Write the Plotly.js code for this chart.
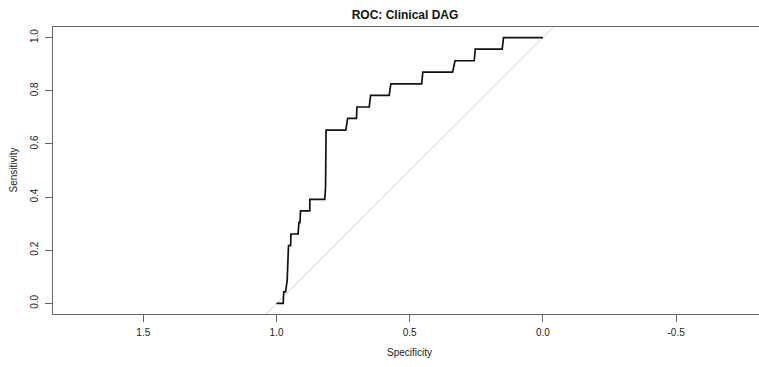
<!DOCTYPE html>
<html>
<head>
<meta charset="utf-8">
<script src="https://cdn.plot.ly/plotly-3.0.1.min.js"></script>
<style>html,body{margin:0;padding:0;background:#fff;}#chart{width:759px;height:367px;}</style>
</head>
<body>
<div id="chart"></div>
<script>
// ROC curve points (specificity, sensitivity)
const specificity = [1.000, 0.975, 0.973, 0.966, 0.960, 0.955, 0.947, 0.946, 0.919, 0.916, 0.912, 0.910, 0.875, 0.875, 0.819, 0.816, 0.814, 0.740, 0.733, 0.700, 0.698, 0.652, 0.647, 0.577, 0.571, 0.455, 0.451, 0.339, 0.330, 0.258, 0.254, 0.153, 0.148, 0.000];
const sensitivity = [0.000, 0.000, 0.043, 0.043, 0.087, 0.217, 0.217, 0.261, 0.261, 0.304, 0.304, 0.348, 0.348, 0.391, 0.391, 0.435, 0.652, 0.652, 0.696, 0.696, 0.739, 0.739, 0.783, 0.783, 0.826, 0.826, 0.870, 0.870, 0.913, 0.913, 0.957, 0.957, 1.000, 1.000];
// chance diagonal (sens = 1 - spec) spanning the plot region
const diagSpec = [1.04, -0.04];
const diagSens = [-0.04, 1.04];
// tick labels
const xTickVals = [1.5, 1.0, 0.5, 0.0, -0.5];
const xTickText = ["1.5", "1.0", "0.5", "0.0", "-0.5"];
const yTickVals = [0.0, 0.2, 0.4, 0.6, 0.8, 1.0];
const yTickText = ["0.0", "0.2", "0.4", "0.6", "0.8", "1.0"];

const FONT = "Liberation Sans, Arial, sans-serif";
const axisColor = "#666";

const traces = [
  {x: diagSpec, y: diagSens, mode: "lines", line: {color: "#d3d3d3", width: 1}, hoverinfo: "skip", showlegend: false},
  {x: specificity, y: sensitivity, mode: "lines", line: {color: "#111", width: 1.7}, showlegend: false}
];

const layout = {
  width: 759, height: 367,
  margin: {l: 53, r: 0, t: 27, b: 53, pad: 0},
  paper_bgcolor: "#fff", plot_bgcolor: "#fff",
  font: {family: FONT, size: 10, color: "#222"},
  title: {text: "<b>ROC: Clinical DAG</b>", font: {family: FONT, size: 12, color: "#111"},
          xref: "container", x: 405/759, xanchor: "center", yref: "container", y: 1 - 15/367, yanchor: "middle"},
  xaxis: {
    range: [1.839, -0.811], tickvals: xTickVals, ticktext: xTickText,
    showgrid: false, zeroline: false, showline: true, mirror: true, linecolor: axisColor, linewidth: 1,
    ticks: "outside", ticklen: 7, tickcolor: axisColor, tickwidth: 1, ticklabelstandoff: 2,
    tickfont: {family: FONT, size: 10, color: "#222"}, title: {text: ""}
  },
  yaxis: {
    range: [-0.04, 1.04], tickvals: yTickVals, ticktext: yTickText, tickangle: -90,
    showgrid: false, zeroline: false, showline: true, mirror: false, linecolor: axisColor, linewidth: 1,
    ticks: "outside", ticklen: 7, tickcolor: axisColor, tickwidth: 1, ticklabelstandoff: 3,
    tickfont: {family: FONT, size: 10, color: "#222"}, title: {text: ""}
  },
  annotations: [
    {text: "Specificity", xref: "x", x: 0.5, yref: "paper", y: (314.3 - 353) / 287, xanchor: "center", yanchor: "middle",
     showarrow: false, font: {family: FONT, size: 10, color: "#222"}},
    {text: "Sensitivity", xref: "paper", x: (13.3 - 53.3) / 706, yref: "y", y: 0.5, xanchor: "center", yanchor: "middle",
     textangle: -90, showarrow: false, font: {family: FONT, size: 10, color: "#222"}}
  ]
};

Plotly.newPlot("chart", traces, layout, {staticPlot: true, displayModeBar: false});
</script>
</body>
</html>
